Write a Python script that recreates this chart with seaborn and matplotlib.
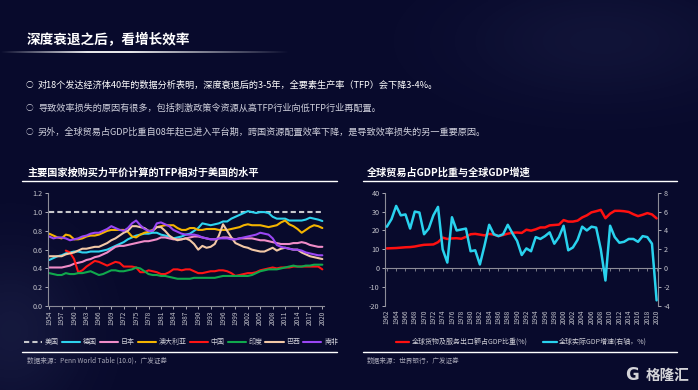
import numpy as np
import pandas as pd
import matplotlib
matplotlib.use('Agg')
import matplotlib.pyplot as plt
from matplotlib.lines import Line2D
import seaborn as sns

W, H = 698, 390
BG = '#080a2c'

# ---- left chart: TFP (PPP) relative to USA ----
tfp_years = list(range(1954, 2021))
usa = [1.0] * len(tfp_years)
germany = [0.49, 0.51, 0.53, 0.54, 0.56, 0.57, 0.58, 0.58, 0.57, 0.57, 0.58, 0.58,
           0.58, 0.59, 0.60, 0.62, 0.64, 0.66, 0.68, 0.71, 0.73, 0.75, 0.76, 0.77,
           0.77, 0.78, 0.78, 0.76, 0.75, 0.74, 0.72, 0.73, 0.74, 0.76, 0.77, 0.80,
           0.83, 0.88, 0.87, 0.86, 0.87, 0.88, 0.90, 0.90, 0.93, 0.95, 0.97, 0.99,
           1.01, 1.00, 0.99, 1.00, 1.00, 0.99, 0.95, 0.93, 0.93, 0.93, 0.91, 0.91,
           0.91, 0.91, 0.92, 0.94, 0.93, 0.92, 0.905]
japan = [0.41, 0.41, 0.41, 0.41, 0.42, 0.43, 0.45, 0.46, 0.47, 0.49, 0.50, 0.52,
         0.53, 0.55, 0.57, 0.60, 0.63, 0.64, 0.64, 0.65, 0.66, 0.67, 0.68, 0.69,
         0.69, 0.70, 0.71, 0.73, 0.73, 0.72, 0.71, 0.71, 0.71, 0.72, 0.73, 0.74,
         0.74, 0.73, 0.72, 0.71, 0.71, 0.72, 0.73, 0.73, 0.72, 0.71, 0.72, 0.72,
         0.72, 0.72, 0.71, 0.70, 0.70, 0.69, 0.68, 0.67, 0.66, 0.66, 0.66, 0.67,
         0.67, 0.68, 0.67, 0.65, 0.64, 0.63, 0.63]
australia = [0.77, 0.75, 0.73, 0.72, 0.76, 0.75, 0.71, 0.71, 0.72, 0.74, 0.75, 0.75,
             0.76, 0.78, 0.80, 0.81, 0.81, 0.81, 0.81, 0.79, 0.74, 0.73, 0.76, 0.78,
             0.79, 0.81, 0.84, 0.85, 0.86, 0.86, 0.86, 0.83, 0.81, 0.81, 0.83, 0.83,
             0.81, 0.81, 0.82, 0.82, 0.82, 0.81, 0.81, 0.81, 0.82, 0.83, 0.84, 0.86,
             0.87, 0.86, 0.86, 0.86, 0.85, 0.84, 0.85, 0.86, 0.89, 0.91, 0.87, 0.85,
             0.82, 0.78, 0.81, 0.84, 0.86, 0.85, 0.83]
china = [np.nan, np.nan, np.nan, np.nan, 0.59, 0.57, 0.50, 0.36, 0.38, 0.42, 0.45, 0.48,
         0.47, 0.45, 0.43, 0.45, 0.47, 0.46, 0.42, 0.42, 0.42, 0.41, 0.36, 0.36,
         0.38, 0.37, 0.36, 0.34, 0.34, 0.36, 0.39, 0.39, 0.38, 0.39, 0.39, 0.37,
         0.35, 0.35, 0.36, 0.37, 0.37, 0.38, 0.38, 0.37, 0.35, 0.32, 0.33, 0.34,
         0.35, 0.35, 0.36, 0.38, 0.39, 0.40, 0.41, 0.40, 0.41, 0.41, 0.41, 0.42,
         0.42, 0.42, 0.42, 0.42, 0.42, 0.42, 0.39]
india = [0.35, 0.34, 0.33, 0.33, 0.35, 0.34, 0.34, 0.35, 0.35, 0.36, 0.37, 0.35,
         0.33, 0.34, 0.36, 0.38, 0.38, 0.37, 0.37, 0.38, 0.39, 0.41, 0.40, 0.37,
         0.34, 0.33, 0.33, 0.32, 0.32, 0.31, 0.30, 0.29, 0.29, 0.29, 0.29, 0.30,
         0.30, 0.30, 0.30, 0.30, 0.30, 0.31, 0.32, 0.32, 0.32, 0.32, 0.32, 0.32,
         0.32, 0.33, 0.35, 0.37, 0.38, 0.39, 0.39, 0.39, 0.40, 0.41, 0.42, 0.43,
         0.42, 0.42, 0.43, 0.43, 0.44, 0.44, 0.44]
brazil = [0.53, 0.53, 0.53, 0.53, 0.55, 0.56, 0.57, 0.59, 0.61, 0.61, 0.62, 0.63,
          0.63, 0.65, 0.67, 0.70, 0.72, 0.75, 0.78, 0.80, 0.85, 0.85, 0.84, 0.83,
          0.80, 0.80, 0.84, 0.84, 0.80, 0.75, 0.72, 0.70, 0.71, 0.72, 0.70, 0.66,
          0.60, 0.64, 0.62, 0.63, 0.66, 0.75, 0.87, 0.80, 0.73, 0.67, 0.65, 0.63,
          0.62, 0.60, 0.59, 0.58, 0.58, 0.60, 0.62, 0.59, 0.61, 0.62, 0.61, 0.60,
          0.60, 0.57, 0.55, 0.53, 0.52, 0.51, 0.50]
south_africa = [0.74, 0.72, 0.73, 0.73, 0.72, 0.70, 0.71, 0.72, 0.74, 0.75, 0.77, 0.78,
                0.78, 0.80, 0.82, 0.85, 0.83, 0.81, 0.80, 0.83, 0.88, 0.91, 0.86, 0.82,
                0.80, 0.80, 0.88, 0.89, 0.87, 0.85, 0.81, 0.79, 0.77, 0.76, 0.76, 0.76,
                0.75, 0.73, 0.72, 0.71, 0.71, 0.72, 0.72, 0.72, 0.71, 0.71, 0.72, 0.73,
                0.74, 0.75, 0.76, 0.78, 0.77, 0.76, 0.72, 0.65, 0.63, 0.62, 0.61, 0.60,
                0.60, 0.59, 0.57, 0.56, 0.55, 0.54, 0.54]

countries = ['美国', '德国', '日本', '澳大利亚', '中国', '印度', '巴西', '南非']
country_colors = ['#c8c8cc', '#2ed3ee', '#f08cc8', '#f4b400', '#ff1414',
                  '#10a84c', '#f2c8a6', '#9a46f4']

# ---- right chart: world trade share & GDP growth ----
world_years = list(range(1962, 2021))
trade_share = [10.5, 10.6, 10.7, 10.9, 11.1, 11.2, 11.5, 12.0, 12.4, 12.5, 12.6, 13.8,
               16.2, 15.5, 15.8, 15.9, 15.6, 16.6, 18.0, 18.2, 17.8, 17.4, 18.2, 17.8,
               17.0, 17.6, 18.3, 18.8, 18.9, 18.7, 20.4, 19.9, 20.6, 21.6, 21.6, 22.7,
               22.9, 23.1, 25.5, 24.7, 24.7, 25.2, 26.9, 28.0, 29.6, 30.2, 30.9, 26.5,
               28.9, 30.4, 30.4, 30.2, 29.8, 28.6, 27.6, 28.3, 29.2, 28.5, 26.4]
gdp_growth = [4.4, 5.2, 6.6, 5.6, 5.7, 4.2, 6.0, 5.9, 3.6, 4.2, 5.6, 6.5,
              2.0, 0.6, 5.4, 4.0, 4.1, 4.2, 1.8, 1.9, 0.4, 2.4, 4.6, 3.6,
              3.4, 3.6, 4.6, 3.7, 2.9, 1.4, 2.1, 1.8, 3.3, 3.1, 3.4, 3.8,
              2.6, 3.3, 4.5, 1.9, 2.2, 3.0, 4.4, 4.0, 4.4, 4.3, 2.0, -1.3,
              4.5, 3.3, 2.7, 2.8, 3.1, 3.1, 2.8, 3.4, 3.3, 2.6, -3.4]

sns.set_theme(style='dark')
plt.rcParams['font.family'] = ['Noto Sans CJK SC', 'DejaVu Sans']
plt.rcParams['axes.unicode_minus'] = False

TICK_C = '#c4c4cc'
SPINE_C = '#8c8c98'


def px_box(l, t, r, b):
    return [l / W, 1 - b / H, (r - l) / W, (b - t) / H]


fig = plt.figure(figsize=(W / 100, H / 100), dpi=100, facecolor=BG)

# full-figure layer in pixel coords for slide text and rules
bg = fig.add_axes([0, 0, 1, 1], zorder=0)
bg.axis('off')

# faint marble-like glow in the corners of the slide
gy, gx = np.mgrid[0:H:2, 0:W:2]
glow = (0.10 * np.exp(-(((gx - 10) / 70.0) ** 2 + ((gy - 330) / 80.0) ** 2))
        + 0.07 * np.exp(-(((gx - 600) / 140.0) ** 2 + ((gy - 40) / 60.0) ** 2)))
glow_img = np.zeros(glow.shape + (4,))
glow_img[..., :3] = [0.55, 0.6, 0.85]
glow_img[..., 3] = glow
bg.imshow(glow_img, extent=[0, W, H, 0], aspect='auto', interpolation='bilinear')

bg.text(27, 40, '深度衰退之后，看增长效率', color='white', fontsize=9.8,
        fontweight='bold', va='center', ha='left')
grad = np.zeros((1, 300, 4))
grad[..., :3] = 1.0
xs = np.linspace(0, 1, 300)
grad[0, :, 3] = np.clip(np.minimum(xs / 0.3, (1 - xs) / 0.55), 0, 1) * 0.9
bg.imshow(grad, extent=[0, 290, 53.2, 51.2], aspect='auto', interpolation='bilinear')
bg.set_xlim(0, W)
bg.set_ylim(H, 0)

bullets = [
    ('对18个发达经济体40年的数据分析表明，深度衰退后的3-5年，全要素生产率（TFP）会下降3-4%。', '#ffffff', 85),
    ('导致效率损失的原因有很多，包括刺激政策令资源从高TFP行业向低TFP行业再配置。', '#cfd0dc', 108),
    ('另外，全球贸易占GDP比重自08年起已进入平台期，跨国资源配置效率下降，是导致效率损失的另一重要原因。', '#cfd0dc', 132),
]
for txt, col, y in bullets:
    bg.text(29, y, '○', color=col, fontsize=5.5, va='center', ha='center')
    bg.text(38, y, txt, color=col, fontsize=6.6, va='center', ha='left')

# chart titles, rules and sources
bg.text(27, 173, '主要国家按购买力平价计算的TFP相对于美国的水平', color='white',
        fontsize=7.3, fontweight='bold', va='center')
bg.text(367, 173, '全球贸易占GDP比重与全球GDP增速', color='white',
        fontsize=7.3, fontweight='bold', va='center')
for x0, x1 in [(22, 337), (363, 677)]:
    bg.plot([x0, x1], [181, 181], color='white', lw=1.0)
    bg.plot([x0, x1], [352, 352], color='white', lw=1.0)
bg.text(27, 361, '数据来源：Penn World Table (10.0)，广发证券', color='#a8a8b8',
        fontsize=4.8, va='center', style='italic')
bg.text(367, 361, '数据来源：世界银行，广发证券', color='#a8a8b8',
        fontsize=4.8, va='center')

# logo
bg.text(632, 375, 'G', color='#d4d4d8', fontsize=12, fontweight='bold',
        va='center', ha='center', family='DejaVu Sans')
bg.text(646, 375, '格隆汇', color='#d4d4d8', fontsize=10.5, fontweight='bold',
        va='center', ha='left')

# ---- left chart ----
ax1 = fig.add_axes(px_box(48, 193.3, 324, 306), zorder=2)
ax1.set_facecolor('none')
tfp_series = [usa, germany, japan, australia, china, india, brazil, south_africa]
df = pd.DataFrame({
    'year': tfp_years * len(countries),
    'tfp': [v for s in tfp_series for v in s],
    'country': [c for c in countries for _ in tfp_years],
})
dash_map = {c: '' for c in countries}
dash_map['美国'] = (2.5, 1.5)
sns.lineplot(data=df, x='year', y='tfp', hue='country', hue_order=countries,
             palette=dict(zip(countries, country_colors)), style='country',
             style_order=countries, dashes=dash_map, linewidth=1.5,
             legend=False, ax=ax1)
ax1.set_xlim(1953.7, 2020.4)
ax1.set_ylim(0, 1.2)
ax1.set_yticks(np.arange(0, 1.21, 0.2))
ax1.set_yticklabels([f'{v:.1f}' for v in np.arange(0, 1.21, 0.2)])
ax1.set_xticks(tfp_years[::3])
ax1.set_xticklabels([str(y) for y in tfp_years[::3]], rotation=90)
ax1.set_xlabel('')
ax1.set_ylabel('')
ax1.grid(False)
for s in ['top', 'right']:
    ax1.spines[s].set_visible(False)
for s in ['left', 'bottom']:
    ax1.spines[s].set_color(SPINE_C)
    ax1.spines[s].set_linewidth(0.8)
ax1.tick_params(axis='y', colors=TICK_C, labelsize=5.2, length=2, width=0.6,
                direction='out', pad=2, left=True)
ax1.tick_params(axis='x', colors=TICK_C, labelsize=4.6, length=2, width=0.6,
                direction='out', pad=1.5, bottom=True)

handles = []
for c, col in zip(countries, country_colors):
    ls = (0, (2.5, 1.5)) if c == '美国' else '-'
    handles.append(Line2D([], [], color=col, lw=1.5, linestyle=ls, label=c))
leg = fig.legend(handles=handles, loc='center', ncol=8, frameon=False,
                 bbox_to_anchor=(181 / W, 1 - 342 / H), fontsize=5,
                 handlelength=2.6, handletextpad=0.4, columnspacing=0.45,
                 labelcolor='#d0d0d8')

# ---- right chart ----
ax2 = fig.add_axes(px_box(385, 192.7, 658, 306), zorder=2)
ax2.set_facecolor('none')
sns.lineplot(x=world_years, y=trade_share, ax=ax2, color='#ff1010', linewidth=1.8)
ax2.set_xlim(1961.6, 2020.3)
ax2.set_ylim(-20, 40)
ax2.set_yticks(range(-20, 41, 10))
ax2.set_xticks(world_years[::2])
ax2.set_xticklabels([str(y) for y in world_years[::2]], rotation=90)
ax2.grid(False)
for s in ['top', 'right', 'bottom']:
    ax2.spines[s].set_visible(False)
ax2.spines['left'].set_color(SPINE_C)
ax2.spines['left'].set_linewidth(0.8)
ax2.tick_params(axis='y', colors=TICK_C, labelsize=5.2, length=2, width=0.6,
                direction='out', pad=2, left=True)
ax2.tick_params(axis='x', colors=TICK_C, labelsize=4.6, length=0, pad=2.5)

zero_axis = ax2.secondary_xaxis(1 / 3)
zero_axis.set_xticks(world_years[::2])
zero_axis.tick_params(axis='x', direction='out', length=2, width=0.6,
                      colors=SPINE_C, labelbottom=False, labeltop=False,
                      bottom=True, top=False)
zero_axis.spines['bottom'].set_color(SPINE_C)
zero_axis.spines['bottom'].set_linewidth(0.8)
zero_axis.spines['top'].set_visible(False)

ax3 = ax2.twinx()
sns.lineplot(x=world_years, y=gdp_growth, ax=ax3, color='#29d2ee', linewidth=1.8)
ax3.set_ylim(-4, 8)
ax3.set_yticks(range(-4, 9, 2))
ax3.grid(False)
for s in ['top', 'left', 'bottom']:
    ax3.spines[s].set_visible(False)
ax3.spines['right'].set_color(SPINE_C)
ax3.spines['right'].set_linewidth(0.8)
ax3.tick_params(axis='y', colors=TICK_C, labelsize=5.2, length=2, width=0.6,
                direction='out', pad=2, right=True)
for a in (ax2, ax3):
    a.set_xlabel('')
    a.set_ylabel('')

h2 = [Line2D([], [], color='#ff1010', lw=1.6, label='全球货物及服务出口额占GDP比重(%)'),
      Line2D([], [], color='#29d2ee', lw=1.6, label='全球实际GDP增速(右轴，%)')]
fig.legend(handles=h2, loc='center', ncol=2, frameon=False,
           bbox_to_anchor=(521 / W, 1 - 342 / H), fontsize=5.0,
           handlelength=2.0, handletextpad=0.3, columnspacing=2.2,
           labelcolor='#d0d0d8')

fig.savefig('out.png', dpi=100, facecolor=BG)
